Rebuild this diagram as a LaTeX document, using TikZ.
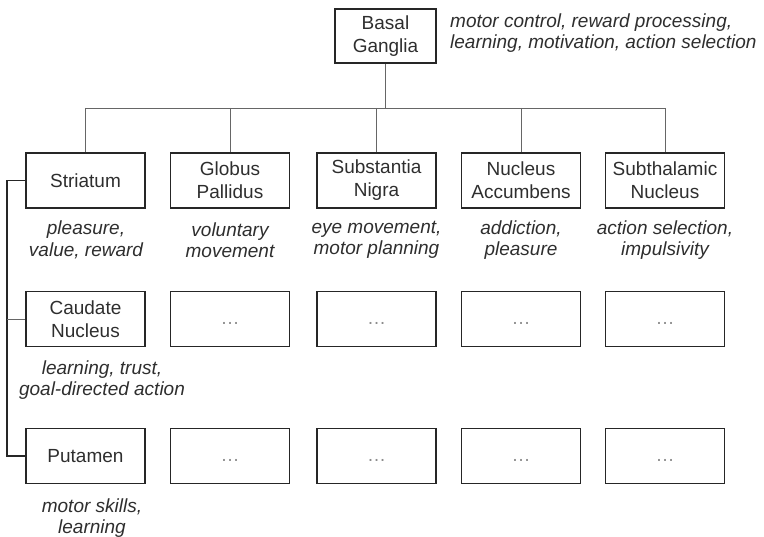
\documentclass[tikz,border=0pt]{standalone}
\usepackage{fontspec}
\setmainfont{Liberation Sans}
\newcommand{\moreitems}{\textcolor{black!45}{\raisebox{-5.5pt}[0pt][0pt]{\dots}}}
\begin{document}
\begin{tikzpicture}[x=1pt,y=-1pt,
  every node/.style={font=\fontsize{19}{23}\selectfont, text=black!82},
  region/.style={draw=black!85, line width=1.6pt, minimum width=119pt, minimum height=55pt,
    inner sep=0pt, align=center},
  note/.style={font=\fontsize{19}{21.5}\selectfont\itshape, align=center, inner sep=0pt},
  conn/.style={draw=black!60, line width=0.9pt},
  bracket/.style={draw=black!85, line width=1.3pt}]
\useasboundingbox (0,0) rectangle (764,537);

% root
\node[region, minimum width=101pt, minimum height=54pt] (bg) at (385.5,36) {Basal\\Ganglia};
\node[note, align=left, anchor=west] (bgn) at (450,33)
  {motor control, reward processing,\\learning, motivation, action selection};

% first row
\node[region] (str) at (85.5,180.5) {Striatum};
\node[region] (gp)  at (230,180.5) {Globus\\Pallidus};
\node[region] (sn)  at (376.5,180.5) {Substantia\\Nigra};
\node[region] (na)  at (521,180.5) {Nucleus\\Accumbens};
\node[region] (stn) at (665,180.5) {Subthalamic\\Nucleus};

\node[note] (strn) at (86,240) {pleasure,\\value, reward};
\node[note] (gpn)  at (230,240) {voluntary\\movement};
\node[note] (snn)  at (376.5,240) {eye movement,\\motor planning};
\node[note] (nan)  at (521,240) {addiction,\\pleasure};
\node[note] (stnn) at (665,240) {action selection,\\impulsivity};

% second row
\node[region] (cau) at (85.5,319) {Caudate\\Nucleus};
\node[region] (gp2)  at (230,319) {\moreitems};
\node[region] (sn2)  at (376.5,319) {\moreitems};
\node[region] (na2)  at (521,319) {\moreitems};
\node[region] (stn2) at (665,319) {\moreitems};
\node[note] (caun) at (102,380) {learning, trust,\\goal-directed action};

% third row
\node[region] (put) at (85.5,456) {Putamen};
\node[region] (gp3)  at (230,456) {\moreitems};
\node[region] (sn3)  at (376.5,456) {\moreitems};
\node[region] (na3)  at (521,456) {\moreitems};
\node[region] (stn3) at (665,456) {\moreitems};
\node[note] (putn) at (92,518) {motor skills,\\learning};

% tree connectors
\coordinate (bus) at (0,108);
\draw[conn] (bg.south) -- (bg.south |- bus);
\draw[conn] (str.north |- bus) -- (stn.north |- bus);
\foreach \n in {str,gp,sn,na,stn}
  \draw[conn] (\n.north |- bus) -- (\n.north);

% striatum bracket
\coordinate (bk) at (7,0);
\draw[bracket] (str.west) -- (str.west -| bk) -- (put.west -| bk) -- (put.west);
\draw[conn] (cau.west -| bk) -- (cau.west);
\end{tikzpicture}
\end{document}
